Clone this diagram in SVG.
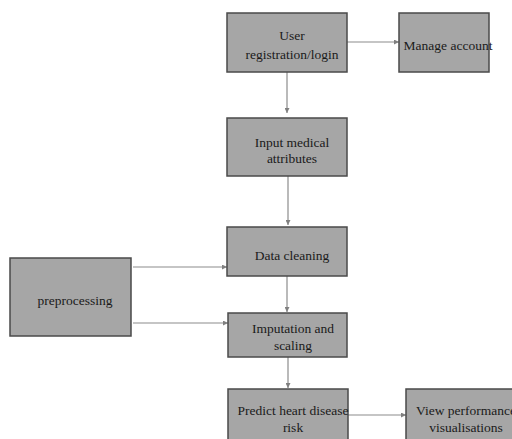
<svg xmlns="http://www.w3.org/2000/svg" width="512" height="439" viewBox="0 0 512 439">
<defs>
<style>
.box{fill:#a6a6a6;stroke:#4a4a4a;stroke-width:1.5}
.t{font-family:"Liberation Serif","Times New Roman",serif;font-size:13.5px;fill:#1a1a1a;text-anchor:middle}
.c{stroke:#8c8c8c;stroke-width:1.2;fill:none;marker-end:url(#ah)}
</style>
<marker id="ah" viewBox="0 0 6 6" refX="6" refY="3" markerWidth="5" markerHeight="5" orient="auto" markerUnits="userSpaceOnUse">
<path d="M0,0 L6,3 L0,6 z" fill="#808080"/>
</marker>
</defs>
<rect width="512" height="439" fill="#ffffff"/>
<g id="connectors">
<line class="c" x1="347" y1="42" x2="399" y2="42"/>
<line class="c" x1="287" y1="72" x2="287" y2="113"/>
<line class="c" x1="288" y1="176" x2="288" y2="225"/>
<line class="c" x1="133" y1="267" x2="227" y2="267"/>
<line class="c" x1="133" y1="323" x2="228" y2="323"/>
<line class="c" x1="287" y1="276" x2="287" y2="312"/>
<line class="c" x1="288" y1="357" x2="288" y2="388"/>
<line class="c" x1="348" y1="415" x2="406" y2="415"/>
</g>
<g id="n-user">
<rect class="box" x="227" y="13" width="120" height="59"/>
<text class="t" x="292" y="40">User</text>
<text class="t" x="292" y="59">registration/login</text>
</g>
<g id="n-manage">
<rect class="box" x="399" y="13" width="90" height="59"/>
<text class="t" x="448" y="50">Manage account</text>
</g>
<g id="n-input">
<rect class="box" x="227" y="118" width="120" height="58"/>
<text class="t" x="292" y="147">Input medical</text>
<text class="t" x="292" y="163">attributes</text>
</g>
<g id="n-clean">
<rect class="box" x="227" y="227" width="120" height="49"/>
<text class="t" x="292" y="260">Data cleaning</text>
</g>
<g id="n-pre">
<rect class="box" x="10" y="258" width="121" height="78"/>
<text class="t" x="75" y="305">preprocessing</text>
</g>
<g id="n-imp">
<rect class="box" x="228" y="313" width="119" height="44"/>
<text class="t" x="293" y="333">Imputation and</text>
<text class="t" x="293" y="350">scaling</text>
</g>
<g id="n-predict">
<rect class="box" x="228" y="389" width="120" height="60"/>
<text class="t" x="293" y="415">Predict heart disease</text>
<text class="t" x="293" y="432">risk</text>
</g>
<g id="n-view">
<rect class="box" x="406" y="389" width="120" height="60"/>
<text class="t" x="466" y="415">View performance</text>
<text class="t" x="466" y="432">visualisations</text>
</g>
</svg>
